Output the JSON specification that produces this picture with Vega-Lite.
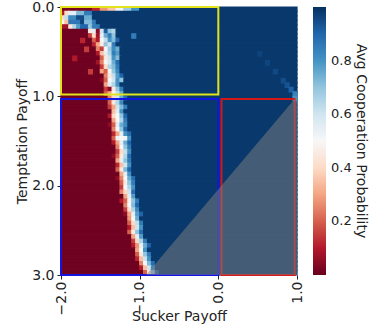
{
"$schema":"https://vega.github.io/schema/vega-lite/v6.json",
"width":236,"height":268,
"autosize":{"type":"none"},
"padding":{"left":61,"top":7,"right":76,"bottom":53},
"background":"white",
"config":{"view":{"stroke":null},"axis":{"grid":false,"domain":false,"tickColor":"#222","labelColor":"#222","titleColor":"#222","labelFont":"DejaVu Sans","titleFont":"DejaVu Sans","labelFontSize":14,"titleFontSize":14,"titleFontWeight":"normal"}},
"resolve":{"scale":{"stroke":"independent"}},
"layer":[
{"data":{"values":[
{"a":-2,"b":-1.6,"t":0,"u":0.05,"v":0.02},{"a":-1.6,"b":-1.5,"t":0,"u":0.05,"v":0.12},{"a":-1.5,"b":-1.4,"t":0,"u":0.05,"v":0.28},{"a":-1.4,"b":-1.3,"t":0,"u":0.05,"v":0.36},{"a":-1.3,"b":-1.2,"t":0,"u":0.05,"v":0.52},{"a":-1.2,"b":-1.1,"t":0,"u":0.05,"v":0.68},{"a":-1.1,"b":-1,"t":0,"u":0.05,"v":0.8},{"a":-1,"b":1,"t":0,"u":0.05,"v":0.985},
{"a":-2,"b":-1.95,"t":0.05,"u":0.1,"v":0.1},{"a":-1.95,"b":-1.9,"t":0.05,"u":0.1,"v":0.4},{"a":-1.9,"b":-1.8,"t":0.05,"u":0.1,"v":0.55},{"a":-1.8,"b":-1.7,"t":0.05,"u":0.1,"v":0.72},{"a":-1.7,"b":-1.6,"t":0.05,"u":0.1,"v":0.85},{"a":-1.6,"b":1,"t":0.05,"u":0.1,"v":0.985},
{"a":-2,"b":-1.95,"t":0.1,"u":0.15,"v":0.4},{"a":-1.95,"b":-1.9,"t":0.1,"u":0.15,"v":0.62},{"a":-1.9,"b":-1.8,"t":0.1,"u":0.15,"v":0.82},{"a":-1.8,"b":-1.7,"t":0.1,"u":0.15,"v":0.95},{"a":-1.7,"b":-1.6,"t":0.1,"u":0.15,"v":0.75},{"a":-1.6,"b":1,"t":0.1,"u":0.15,"v":0.985},
{"a":-2,"b":-1.95,"t":0.15,"u":0.2,"v":0.5},{"a":-1.95,"b":-1.9,"t":0.15,"u":0.2,"v":0.35},{"a":-1.9,"b":-1.75,"t":0.15,"u":0.2,"v":0.86},{"a":-1.75,"b":-1.7,"t":0.15,"u":0.2,"v":0.96},{"a":-1.7,"b":-1.6,"t":0.15,"u":0.2,"v":0.72},{"a":-1.6,"b":-1.55,"t":0.15,"u":0.2,"v":0.85},{"a":-1.55,"b":1,"t":0.15,"u":0.2,"v":0.985},
{"a":-2,"b":-1.9,"t":0.2,"u":0.25,"v":0.08},{"a":-1.9,"b":-1.85,"t":0.2,"u":0.25,"v":0.45},{"a":-1.85,"b":-1.8,"t":0.2,"u":0.25,"v":0.65},{"a":-1.8,"b":-1.75,"t":0.2,"u":0.25,"v":0.78},{"a":-1.75,"b":-1.65,"t":0.2,"u":0.25,"v":0.9},{"a":-1.65,"b":-1.6,"t":0.2,"u":0.25,"v":0.7},{"a":-1.6,"b":-1.5,"t":0.2,"u":0.25,"v":0.85},{"a":-1.5,"b":1,"t":0.2,"u":0.25,"v":0.985},
{"a":-2,"b":-1.65,"t":0.25,"u":0.3,"v":0.01},{"a":-1.65,"b":-1.6,"t":0.25,"u":0.3,"v":0.45},{"a":-1.6,"b":-1.55,"t":0.25,"u":0.3,"v":0.55},{"a":-1.55,"b":-1.5,"t":0.25,"u":0.3,"v":0.05},{"a":-1.5,"b":-1.45,"t":0.25,"u":0.3,"v":0.6},{"a":-1.45,"b":-1.4,"t":0.25,"u":0.3,"v":0.92},{"a":-1.4,"b":-1.35,"t":0.25,"u":0.3,"v":0.7},{"a":-1.35,"b":-1.3,"t":0.25,"u":0.3,"v":0.65},{"a":-1.3,"b":1,"t":0.25,"u":0.3,"v":0.985},
{"a":-2,"b":-1.65,"t":0.3,"u":0.35,"v":0.01},{"a":-1.65,"b":-1.6,"t":0.3,"u":0.35,"v":0.15},{"a":-1.6,"b":-1.55,"t":0.3,"u":0.35,"v":0.4},{"a":-1.55,"b":-1.5,"t":0.3,"u":0.35,"v":0.08},{"a":-1.5,"b":-1.45,"t":0.3,"u":0.35,"v":0.55},{"a":-1.45,"b":-1.4,"t":0.3,"u":0.35,"v":0.75},{"a":-1.4,"b":-1.35,"t":0.3,"u":0.35,"v":0.85},{"a":-1.35,"b":-1.3,"t":0.3,"u":0.35,"v":0.7},{"a":-1.3,"b":1,"t":0.3,"u":0.35,"v":0.985},
{"a":-2,"b":-1.6,"t":0.35,"u":0.4,"v":0.01},{"a":-1.6,"b":-1.55,"t":0.35,"u":0.4,"v":0.2},{"a":-1.55,"b":-1.5,"t":0.35,"u":0.4,"v":0.1},{"a":-1.5,"b":-1.45,"t":0.35,"u":0.4,"v":0.5},{"a":-1.45,"b":-1.4,"t":0.35,"u":0.4,"v":0.62},{"a":-1.4,"b":-1.35,"t":0.35,"u":0.4,"v":0.8},{"a":-1.35,"b":-1.3,"t":0.35,"u":0.4,"v":0.72},{"a":-1.3,"b":-1.25,"t":0.35,"u":0.4,"v":0.9},{"a":-1.25,"b":1,"t":0.35,"u":0.4,"v":0.985},
{"a":-2,"b":-1.6,"t":0.4,"u":0.45,"v":0.01},{"a":-1.6,"b":-1.55,"t":0.4,"u":0.45,"v":0.12},{"a":-1.55,"b":-1.5,"t":0.4,"u":0.45,"v":0.3},{"a":-1.5,"b":-1.45,"t":0.4,"u":0.45,"v":0.45},{"a":-1.45,"b":-1.4,"t":0.4,"u":0.45,"v":0.7},{"a":-1.4,"b":-1.35,"t":0.4,"u":0.45,"v":0.6},{"a":-1.35,"b":-1.3,"t":0.4,"u":0.45,"v":0.85},{"a":-1.3,"b":1,"t":0.4,"u":0.45,"v":0.985},
{"a":-2,"b":-1.55,"t":0.45,"u":0.5,"v":0.01},{"a":-1.55,"b":-1.5,"t":0.45,"u":0.5,"v":0.25},{"a":-1.5,"b":-1.45,"t":0.45,"u":0.5,"v":0.15},{"a":-1.45,"b":-1.4,"t":0.45,"u":0.5,"v":0.5},{"a":-1.4,"b":-1.35,"t":0.45,"u":0.5,"v":0.68},{"a":-1.35,"b":-1.3,"t":0.45,"u":0.5,"v":0.82},{"a":-1.3,"b":-1.25,"t":0.45,"u":0.5,"v":0.75},{"a":-1.25,"b":1,"t":0.45,"u":0.5,"v":0.985},
{"a":-2,"b":-1.55,"t":0.5,"u":0.55,"v":0.01},{"a":-1.55,"b":-1.5,"t":0.5,"u":0.55,"v":0.1},{"a":-1.5,"b":-1.45,"t":0.5,"u":0.55,"v":0.35},{"a":-1.45,"b":-1.4,"t":0.5,"u":0.55,"v":0.55},{"a":-1.4,"b":-1.35,"t":0.5,"u":0.55,"v":0.65},{"a":-1.35,"b":-1.3,"t":0.5,"u":0.55,"v":0.85},{"a":-1.3,"b":-1.25,"t":0.5,"u":0.55,"v":0.78},{"a":-1.25,"b":1,"t":0.5,"u":0.55,"v":0.985},
{"a":-2,"b":-1.5,"t":0.55,"u":0.6,"v":0.01},{"a":-1.5,"b":-1.45,"t":0.55,"u":0.6,"v":0.2},{"a":-1.45,"b":-1.4,"t":0.55,"u":0.6,"v":0.45},{"a":-1.4,"b":-1.35,"t":0.55,"u":0.6,"v":0.6},{"a":-1.35,"b":-1.3,"t":0.55,"u":0.6,"v":0.8},{"a":-1.3,"b":-1.25,"t":0.55,"u":0.6,"v":0.72},{"a":-1.25,"b":1,"t":0.55,"u":0.6,"v":0.985},
{"a":-2,"b":-1.55,"t":0.6,"u":0.65,"v":0.01},{"a":-1.55,"b":-1.5,"t":0.6,"u":0.65,"v":0.08},{"a":-1.5,"b":-1.45,"t":0.6,"u":0.65,"v":0.25},{"a":-1.45,"b":-1.4,"t":0.6,"u":0.65,"v":0.5},{"a":-1.4,"b":-1.35,"t":0.6,"u":0.65,"v":0.58},{"a":-1.35,"b":-1.3,"t":0.6,"u":0.65,"v":0.75},{"a":-1.3,"b":-1.25,"t":0.6,"u":0.65,"v":0.88},{"a":-1.25,"b":1,"t":0.6,"u":0.65,"v":0.985},
{"a":-2,"b":-1.5,"t":0.65,"u":0.7,"v":0.01},{"a":-1.5,"b":-1.45,"t":0.65,"u":0.7,"v":0.15},{"a":-1.45,"b":-1.4,"t":0.65,"u":0.7,"v":0.4},{"a":-1.4,"b":-1.35,"t":0.65,"u":0.7,"v":0.65},{"a":-1.35,"b":-1.3,"t":0.65,"u":0.7,"v":0.72},{"a":-1.3,"b":-1.25,"t":0.65,"u":0.7,"v":0.85},{"a":-1.25,"b":1,"t":0.65,"u":0.7,"v":0.985},
{"a":-2,"b":-1.5,"t":0.7,"u":0.75,"v":0.01},{"a":-1.5,"b":-1.45,"t":0.7,"u":0.75,"v":0.3},{"a":-1.45,"b":-1.4,"t":0.7,"u":0.75,"v":0.2},{"a":-1.4,"b":-1.35,"t":0.7,"u":0.75,"v":0.5},{"a":-1.35,"b":-1.3,"t":0.7,"u":0.75,"v":0.7},{"a":-1.3,"b":-1.25,"t":0.7,"u":0.75,"v":0.82},{"a":-1.25,"b":1,"t":0.7,"u":0.75,"v":0.985},
{"a":-2,"b":-1.45,"t":0.75,"u":0.8,"v":0.01},{"a":-1.45,"b":-1.4,"t":0.75,"u":0.8,"v":0.25},{"a":-1.4,"b":-1.35,"t":0.75,"u":0.8,"v":0.45},{"a":-1.35,"b":-1.3,"t":0.75,"u":0.8,"v":0.62},{"a":-1.3,"b":-1.25,"t":0.75,"u":0.8,"v":0.78},{"a":-1.25,"b":-1.2,"t":0.75,"u":0.8,"v":0.9},{"a":-1.2,"b":1,"t":0.75,"u":0.8,"v":0.985},
{"a":-2,"b":-1.5,"t":0.8,"u":0.85,"v":0.01},{"a":-1.5,"b":-1.45,"t":0.8,"u":0.85,"v":0.05},{"a":-1.45,"b":-1.4,"t":0.8,"u":0.85,"v":0.2},{"a":-1.4,"b":-1.35,"t":0.8,"u":0.85,"v":0.5},{"a":-1.35,"b":-1.3,"t":0.8,"u":0.85,"v":0.6},{"a":-1.3,"b":-1.25,"t":0.8,"u":0.85,"v":0.8},{"a":-1.25,"b":-1.2,"t":0.8,"u":0.85,"v":0.7},{"a":-1.2,"b":1,"t":0.8,"u":0.85,"v":0.985},
{"a":-2,"b":-1.45,"t":0.85,"u":0.9,"v":0.01},{"a":-1.45,"b":-1.4,"t":0.85,"u":0.9,"v":0.3},{"a":-1.4,"b":-1.35,"t":0.85,"u":0.9,"v":0.55},{"a":-1.35,"b":-1.3,"t":0.85,"u":0.9,"v":0.65},{"a":-1.3,"b":-1.25,"t":0.85,"u":0.9,"v":0.8},{"a":-1.25,"b":1,"t":0.85,"u":0.9,"v":0.985},
{"a":-2,"b":-1.45,"t":0.9,"u":0.95,"v":0.01},{"a":-1.45,"b":-1.4,"t":0.9,"u":0.95,"v":0.15},{"a":-1.4,"b":-1.35,"t":0.9,"u":0.95,"v":0.05},{"a":-1.35,"b":-1.3,"t":0.9,"u":0.95,"v":0.45},{"a":-1.3,"b":-1.25,"t":0.9,"u":0.95,"v":0.7},{"a":-1.25,"b":-1.2,"t":0.9,"u":0.95,"v":0.85},{"a":-1.2,"b":1,"t":0.9,"u":0.95,"v":0.985},
{"a":-2,"b":-1.45,"t":0.95,"u":1,"v":0.01},{"a":-1.45,"b":-1.4,"t":0.95,"u":1,"v":0.2},{"a":-1.4,"b":-1.35,"t":0.95,"u":1,"v":0.3},{"a":-1.35,"b":-1.3,"t":0.95,"u":1,"v":0.5},{"a":-1.3,"b":-1.25,"t":0.95,"u":1,"v":0.62},{"a":-1.25,"b":-1.2,"t":0.95,"u":1,"v":0.75},{"a":-1.2,"b":1,"t":0.95,"u":1,"v":0.985},
{"a":-2,"b":-1.4,"t":1,"u":1.05,"v":0.01},{"a":-1.4,"b":-1.35,"t":1,"u":1.05,"v":0.25},{"a":-1.35,"b":-1.3,"t":1,"u":1.05,"v":0.4},{"a":-1.3,"b":-1.25,"t":1,"u":1.05,"v":0.6},{"a":-1.25,"b":-1.2,"t":1,"u":1.05,"v":0.75},{"a":-1.2,"b":-1.15,"t":1,"u":1.05,"v":0.88},{"a":-1.15,"b":1,"t":1,"u":1.05,"v":0.985},
{"a":-2,"b":-1.4,"t":1.05,"u":1.1,"v":0.01},{"a":-1.4,"b":-1.35,"t":1.05,"u":1.1,"v":0.2},{"a":-1.35,"b":-1.3,"t":1.05,"u":1.1,"v":0.45},{"a":-1.3,"b":-1.25,"t":1.05,"u":1.1,"v":0.65},{"a":-1.25,"b":-1.2,"t":1.05,"u":1.1,"v":0.82},{"a":-1.2,"b":1,"t":1.05,"u":1.1,"v":0.985},
{"a":-2,"b":-1.4,"t":1.1,"u":1.15,"v":0.01},{"a":-1.4,"b":-1.35,"t":1.1,"u":1.15,"v":0.15},{"a":-1.35,"b":-1.3,"t":1.1,"u":1.15,"v":0.3},{"a":-1.3,"b":-1.25,"t":1.1,"u":1.15,"v":0.6},{"a":-1.25,"b":-1.2,"t":1.1,"u":1.15,"v":0.72},{"a":-1.2,"b":-1.15,"t":1.1,"u":1.15,"v":0.85},{"a":-1.15,"b":1,"t":1.1,"u":1.15,"v":0.985},
{"a":-2,"b":-1.35,"t":1.15,"u":1.2,"v":0.01},{"a":-1.35,"b":-1.3,"t":1.15,"u":1.2,"v":0.35},{"a":-1.3,"b":-1.25,"t":1.15,"u":1.2,"v":0.55},{"a":-1.25,"b":-1.2,"t":1.15,"u":1.2,"v":0.8},{"a":-1.2,"b":1,"t":1.15,"u":1.2,"v":0.985},
{"a":-2,"b":-1.4,"t":1.2,"u":1.25,"v":0.01},{"a":-1.4,"b":-1.35,"t":1.2,"u":1.25,"v":0.1},{"a":-1.35,"b":-1.3,"t":1.2,"u":1.25,"v":0.4},{"a":-1.3,"b":-1.25,"t":1.2,"u":1.25,"v":0.5},{"a":-1.25,"b":-1.2,"t":1.2,"u":1.25,"v":0.7},{"a":-1.2,"b":-1.15,"t":1.2,"u":1.25,"v":0.9},{"a":-1.15,"b":1,"t":1.2,"u":1.25,"v":0.985},
{"a":-2,"b":-1.35,"t":1.25,"u":1.3,"v":0.01},{"a":-1.35,"b":-1.3,"t":1.25,"u":1.3,"v":0.3},{"a":-1.3,"b":-1.25,"t":1.25,"u":1.3,"v":0.5},{"a":-1.25,"b":-1.2,"t":1.25,"u":1.3,"v":0.65},{"a":-1.2,"b":-1.15,"t":1.25,"u":1.3,"v":0.85},{"a":-1.15,"b":1,"t":1.25,"u":1.3,"v":0.985},
{"a":-2,"b":-1.4,"t":1.3,"u":1.35,"v":0.01},{"a":-1.4,"b":-1.35,"t":1.3,"u":1.35,"v":0.05},{"a":-1.35,"b":-1.3,"t":1.3,"u":1.35,"v":0.2},{"a":-1.3,"b":-1.25,"t":1.3,"u":1.35,"v":0.55},{"a":-1.25,"b":-1.2,"t":1.3,"u":1.35,"v":0.75},{"a":-1.2,"b":-1.15,"t":1.3,"u":1.35,"v":0.82},{"a":-1.15,"b":1,"t":1.3,"u":1.35,"v":0.985},
{"a":-2,"b":-1.35,"t":1.35,"u":1.4,"v":0.01},{"a":-1.35,"b":-1.3,"t":1.35,"u":1.4,"v":0.25},{"a":-1.3,"b":-1.25,"t":1.35,"u":1.4,"v":0.5},{"a":-1.25,"b":-1.2,"t":1.35,"u":1.4,"v":0.7},{"a":-1.2,"b":-1.15,"t":1.35,"u":1.4,"v":0.9},{"a":-1.15,"b":1,"t":1.35,"u":1.4,"v":0.985},
{"a":-2,"b":-1.35,"t":1.4,"u":1.45,"v":0.01},{"a":-1.35,"b":-1.3,"t":1.4,"u":1.45,"v":0.12},{"a":-1.3,"b":-1.25,"t":1.4,"u":1.45,"v":0.3},{"a":-1.25,"b":-1.2,"t":1.4,"u":1.45,"v":0.55},{"a":-1.2,"b":-1.15,"t":1.4,"u":1.45,"v":0.8},{"a":-1.15,"b":-1.1,"t":1.4,"u":1.45,"v":0.88},{"a":-1.1,"b":1,"t":1.4,"u":1.45,"v":0.985},
{"a":-2,"b":-1.35,"t":1.45,"u":1.5,"v":0.01},{"a":-1.35,"b":-1.3,"t":1.45,"u":1.5,"v":0.2},{"a":-1.3,"b":-1.25,"t":1.45,"u":1.5,"v":0.52},{"a":-1.25,"b":-1.2,"t":1.45,"u":1.5,"v":0.5},{"a":-1.2,"b":-1.15,"t":1.45,"u":1.5,"v":0.52},{"a":-1.15,"b":-1.1,"t":1.45,"u":1.5,"v":0.8},{"a":-1.1,"b":1,"t":1.45,"u":1.5,"v":0.985},
{"a":-2,"b":-1.35,"t":1.5,"u":1.55,"v":0.01},{"a":-1.35,"b":-1.3,"t":1.5,"u":1.55,"v":0.1},{"a":-1.3,"b":-1.25,"t":1.5,"u":1.55,"v":0.3},{"a":-1.25,"b":-1.2,"t":1.5,"u":1.55,"v":0.55},{"a":-1.2,"b":-1.15,"t":1.5,"u":1.55,"v":0.75},{"a":-1.15,"b":-1.1,"t":1.5,"u":1.55,"v":0.9},{"a":-1.1,"b":1,"t":1.5,"u":1.55,"v":0.985},
{"a":-2,"b":-1.3,"t":1.55,"u":1.6,"v":0.01},{"a":-1.3,"b":-1.25,"t":1.55,"u":1.6,"v":0.25},{"a":-1.25,"b":-1.2,"t":1.55,"u":1.6,"v":0.5},{"a":-1.2,"b":-1.15,"t":1.55,"u":1.6,"v":0.7},{"a":-1.15,"b":-1.1,"t":1.55,"u":1.6,"v":0.85},{"a":-1.1,"b":1,"t":1.55,"u":1.6,"v":0.985},
{"a":-2,"b":-1.3,"t":1.6,"u":1.65,"v":0.01},{"a":-1.3,"b":-1.25,"t":1.6,"u":1.65,"v":0.15},{"a":-1.25,"b":-1.2,"t":1.6,"u":1.65,"v":0.4},{"a":-1.2,"b":-1.15,"t":1.6,"u":1.65,"v":0.62},{"a":-1.15,"b":-1.1,"t":1.6,"u":1.65,"v":0.8},{"a":-1.1,"b":1,"t":1.6,"u":1.65,"v":0.985},
{"a":-2,"b":-1.35,"t":1.65,"u":1.7,"v":0.01},{"a":-1.35,"b":-1.3,"t":1.65,"u":1.7,"v":0.05},{"a":-1.3,"b":-1.25,"t":1.65,"u":1.7,"v":0.2},{"a":-1.25,"b":-1.2,"t":1.65,"u":1.7,"v":0.45},{"a":-1.2,"b":-1.15,"t":1.65,"u":1.7,"v":0.65},{"a":-1.15,"b":-1.1,"t":1.65,"u":1.7,"v":0.88},{"a":-1.1,"b":1,"t":1.65,"u":1.7,"v":0.985},
{"a":-2,"b":-1.3,"t":1.7,"u":1.75,"v":0.01},{"a":-1.3,"b":-1.25,"t":1.7,"u":1.75,"v":0.3},{"a":-1.25,"b":-1.2,"t":1.7,"u":1.75,"v":0.55},{"a":-1.2,"b":-1.15,"t":1.7,"u":1.75,"v":0.7},{"a":-1.15,"b":-1.1,"t":1.7,"u":1.75,"v":0.85},{"a":-1.1,"b":1,"t":1.7,"u":1.75,"v":0.985},
{"a":-2,"b":-1.3,"t":1.75,"u":1.8,"v":0.01},{"a":-1.3,"b":-1.25,"t":1.75,"u":1.8,"v":0.12},{"a":-1.25,"b":-1.2,"t":1.75,"u":1.8,"v":0.35},{"a":-1.2,"b":-1.15,"t":1.75,"u":1.8,"v":0.6},{"a":-1.15,"b":-1.1,"t":1.75,"u":1.8,"v":0.8},{"a":-1.1,"b":1,"t":1.75,"u":1.8,"v":0.985},
{"a":-2,"b":-1.3,"t":1.8,"u":1.85,"v":0.01},{"a":-1.3,"b":-1.25,"t":1.8,"u":1.85,"v":0.2},{"a":-1.25,"b":-1.2,"t":1.8,"u":1.85,"v":0.45},{"a":-1.2,"b":-1.15,"t":1.8,"u":1.85,"v":0.72},{"a":-1.15,"b":-1.1,"t":1.8,"u":1.85,"v":0.9},{"a":-1.1,"b":1,"t":1.8,"u":1.85,"v":0.985},
{"a":-2,"b":-1.25,"t":1.85,"u":1.9,"v":0.01},{"a":-1.25,"b":-1.2,"t":1.85,"u":1.9,"v":0.3},{"a":-1.2,"b":-1.15,"t":1.85,"u":1.9,"v":0.55},{"a":-1.15,"b":-1.1,"t":1.85,"u":1.9,"v":0.8},{"a":-1.1,"b":1,"t":1.85,"u":1.9,"v":0.985},
{"a":-2,"b":-1.3,"t":1.9,"u":1.95,"v":0.01},{"a":-1.3,"b":-1.25,"t":1.9,"u":1.95,"v":0.05},{"a":-1.25,"b":-1.2,"t":1.9,"u":1.95,"v":0.25},{"a":-1.2,"b":-1.15,"t":1.9,"u":1.95,"v":0.5},{"a":-1.15,"b":-1.1,"t":1.9,"u":1.95,"v":0.75},{"a":-1.1,"b":-1.05,"t":1.9,"u":1.95,"v":0.88},{"a":-1.05,"b":1,"t":1.9,"u":1.95,"v":0.985},
{"a":-2,"b":-1.25,"t":1.95,"u":2,"v":0.01},{"a":-1.25,"b":-1.2,"t":1.95,"u":2,"v":0.2},{"a":-1.2,"b":-1.15,"t":1.95,"u":2,"v":0.45},{"a":-1.15,"b":-1.1,"t":1.95,"u":2,"v":0.7},{"a":-1.1,"b":-1.05,"t":1.95,"u":2,"v":0.85},{"a":-1.05,"b":1,"t":1.95,"u":2,"v":0.985},
{"a":-2,"b":-1.25,"t":2,"u":2.05,"v":0.01},{"a":-1.25,"b":-1.2,"t":2,"u":2.05,"v":0.15},{"a":-1.2,"b":-1.15,"t":2,"u":2.05,"v":0.5},{"a":-1.15,"b":-1.1,"t":2,"u":2.05,"v":0.65},{"a":-1.1,"b":-1.05,"t":2,"u":2.05,"v":0.8},{"a":-1.05,"b":1,"t":2,"u":2.05,"v":0.985},
{"a":-2,"b":-1.25,"t":2.05,"u":2.1,"v":0.01},{"a":-1.25,"b":-1.2,"t":2.05,"u":2.1,"v":0.25},{"a":-1.2,"b":-1.15,"t":2.05,"u":2.1,"v":0.4},{"a":-1.15,"b":-1.1,"t":2.05,"u":2.1,"v":0.6},{"a":-1.1,"b":-1.05,"t":2.05,"u":2.1,"v":0.88},{"a":-1.05,"b":1,"t":2.05,"u":2.1,"v":0.985},
{"a":-2,"b":-1.2,"t":2.1,"u":2.15,"v":0.01},{"a":-1.2,"b":-1.15,"t":2.1,"u":2.15,"v":0.3},{"a":-1.15,"b":-1.1,"t":2.1,"u":2.15,"v":0.55},{"a":-1.1,"b":-1.05,"t":2.1,"u":2.15,"v":0.78},{"a":-1.05,"b":1,"t":2.1,"u":2.15,"v":0.985},
{"a":-2,"b":-1.25,"t":2.15,"u":2.2,"v":0.01},{"a":-1.25,"b":-1.2,"t":2.15,"u":2.2,"v":0.1},{"a":-1.2,"b":-1.15,"t":2.15,"u":2.2,"v":0.2},{"a":-1.15,"b":-1.1,"t":2.15,"u":2.2,"v":0.48},{"a":-1.1,"b":-1.05,"t":2.15,"u":2.2,"v":0.7},{"a":-1.05,"b":-1,"t":2.15,"u":2.2,"v":0.85},{"a":-1,"b":1,"t":2.15,"u":2.2,"v":0.985},
{"a":-2,"b":-1.2,"t":2.2,"u":2.25,"v":0.01},{"a":-1.2,"b":-1.15,"t":2.2,"u":2.25,"v":0.25},{"a":-1.15,"b":-1.1,"t":2.2,"u":2.25,"v":0.5},{"a":-1.1,"b":-1.05,"t":2.2,"u":2.25,"v":0.72},{"a":-1.05,"b":-1,"t":2.2,"u":2.25,"v":0.9},{"a":-1,"b":1,"t":2.2,"u":2.25,"v":0.985},
{"a":-2,"b":-1.2,"t":2.25,"u":2.3,"v":0.01},{"a":-1.2,"b":-1.15,"t":2.25,"u":2.3,"v":0.15},{"a":-1.15,"b":-1.1,"t":2.25,"u":2.3,"v":0.42},{"a":-1.1,"b":-1.05,"t":2.25,"u":2.3,"v":0.65},{"a":-1.05,"b":-1,"t":2.25,"u":2.3,"v":0.82},{"a":-1,"b":1,"t":2.25,"u":2.3,"v":0.985},
{"a":-2,"b":-1.2,"t":2.3,"u":2.35,"v":0.01},{"a":-1.2,"b":-1.15,"t":2.3,"u":2.35,"v":0.05},{"a":-1.15,"b":-1.1,"t":2.3,"u":2.35,"v":0.3},{"a":-1.1,"b":-1.05,"t":2.3,"u":2.35,"v":0.55},{"a":-1.05,"b":-1,"t":2.3,"u":2.35,"v":0.78},{"a":-1,"b":-0.95,"t":2.3,"u":2.35,"v":0.9},{"a":-0.95,"b":1,"t":2.3,"u":2.35,"v":0.985},
{"a":-2,"b":-1.15,"t":2.35,"u":2.4,"v":0.01},{"a":-1.15,"b":-1.1,"t":2.35,"u":2.4,"v":0.28},{"a":-1.1,"b":-1.05,"t":2.35,"u":2.4,"v":0.5},{"a":-1.05,"b":-1,"t":2.35,"u":2.4,"v":0.75},{"a":-1,"b":1,"t":2.35,"u":2.4,"v":0.985},
{"a":-2,"b":-1.15,"t":2.4,"u":2.45,"v":0.01},{"a":-1.15,"b":-1.1,"t":2.4,"u":2.45,"v":0.2},{"a":-1.1,"b":-1.05,"t":2.4,"u":2.45,"v":0.4},{"a":-1.05,"b":-1,"t":2.4,"u":2.45,"v":0.62},{"a":-1,"b":-0.95,"t":2.4,"u":2.45,"v":0.85},{"a":-0.95,"b":1,"t":2.4,"u":2.45,"v":0.985},
{"a":-2,"b":-1.15,"t":2.45,"u":2.5,"v":0.01},{"a":-1.15,"b":-1.1,"t":2.45,"u":2.5,"v":0.1},{"a":-1.1,"b":-1.05,"t":2.45,"u":2.5,"v":0.35},{"a":-1.05,"b":-1,"t":2.45,"u":2.5,"v":0.6},{"a":-1,"b":-0.95,"t":2.45,"u":2.5,"v":0.8},{"a":-0.95,"b":1,"t":2.45,"u":2.5,"v":0.985},
{"a":-2,"b":-1.15,"t":2.5,"u":2.55,"v":0.01},{"a":-1.15,"b":-1.1,"t":2.5,"u":2.55,"v":0.2},{"a":-1.1,"b":-1.05,"t":2.5,"u":2.55,"v":0.45},{"a":-1.05,"b":-1,"t":2.5,"u":2.55,"v":0.7},{"a":-1,"b":-0.95,"t":2.5,"u":2.55,"v":0.88},{"a":-0.95,"b":1,"t":2.5,"u":2.55,"v":0.985},
{"a":-2,"b":-1.1,"t":2.55,"u":2.6,"v":0.01},{"a":-1.1,"b":-1.05,"t":2.55,"u":2.6,"v":0.3},{"a":-1.05,"b":-1,"t":2.55,"u":2.6,"v":0.55},{"a":-1,"b":-0.95,"t":2.55,"u":2.6,"v":0.78},{"a":-0.95,"b":1,"t":2.55,"u":2.6,"v":0.985},
{"a":-2,"b":-1.1,"t":2.6,"u":2.65,"v":0.01},{"a":-1.1,"b":-1.05,"t":2.6,"u":2.65,"v":0.15},{"a":-1.05,"b":-1,"t":2.6,"u":2.65,"v":0.4},{"a":-1,"b":-0.95,"t":2.6,"u":2.65,"v":0.65},{"a":-0.95,"b":-0.9,"t":2.6,"u":2.65,"v":0.85},{"a":-0.9,"b":1,"t":2.6,"u":2.65,"v":0.985},
{"a":-2,"b":-1.1,"t":2.65,"u":2.7,"v":0.01},{"a":-1.1,"b":-1.05,"t":2.65,"u":2.7,"v":0.1},{"a":-1.05,"b":-1,"t":2.65,"u":2.7,"v":0.28},{"a":-1,"b":-0.95,"t":2.65,"u":2.7,"v":0.55},{"a":-0.95,"b":-0.9,"t":2.65,"u":2.7,"v":0.75},{"a":-0.9,"b":-0.85,"t":2.65,"u":2.7,"v":0.9},{"a":-0.85,"b":1,"t":2.65,"u":2.7,"v":0.985},
{"a":-2,"b":-1.05,"t":2.7,"u":2.75,"v":0.01},{"a":-1.05,"b":-1,"t":2.7,"u":2.75,"v":0.3},{"a":-1,"b":-0.95,"t":2.7,"u":2.75,"v":0.5},{"a":-0.95,"b":-0.9,"t":2.7,"u":2.75,"v":0.8},{"a":-0.9,"b":1,"t":2.7,"u":2.75,"v":0.985},
{"a":-2,"b":-1.05,"t":2.75,"u":2.8,"v":0.01},{"a":-1.05,"b":-1,"t":2.75,"u":2.8,"v":0.2},{"a":-1,"b":-0.95,"t":2.75,"u":2.8,"v":0.45},{"a":-0.95,"b":-0.9,"t":2.75,"u":2.8,"v":0.7},{"a":-0.9,"b":-0.85,"t":2.75,"u":2.8,"v":0.85},{"a":-0.85,"b":1,"t":2.75,"u":2.8,"v":0.985},
{"a":-2,"b":-1.05,"t":2.8,"u":2.85,"v":0.01},{"a":-1.05,"b":-1,"t":2.8,"u":2.85,"v":0.12},{"a":-1,"b":-0.95,"t":2.8,"u":2.85,"v":0.35},{"a":-0.95,"b":-0.9,"t":2.8,"u":2.85,"v":0.6},{"a":-0.9,"b":-0.85,"t":2.8,"u":2.85,"v":0.8},{"a":-0.85,"b":1,"t":2.8,"u":2.85,"v":0.985},
{"a":-2,"b":-1,"t":2.85,"u":2.9,"v":0.01},{"a":-1,"b":-0.95,"t":2.85,"u":2.9,"v":0.25},{"a":-0.95,"b":-0.9,"t":2.85,"u":2.9,"v":0.5},{"a":-0.9,"b":-0.85,"t":2.85,"u":2.9,"v":0.72},{"a":-0.85,"b":-0.8,"t":2.85,"u":2.9,"v":0.88},{"a":-0.8,"b":1,"t":2.85,"u":2.9,"v":0.985},
{"a":-2,"b":-1,"t":2.9,"u":2.95,"v":0.01},{"a":-1,"b":-0.95,"t":2.9,"u":2.95,"v":0.1},{"a":-0.95,"b":-0.9,"t":2.9,"u":2.95,"v":0.35},{"a":-0.9,"b":-0.85,"t":2.9,"u":2.95,"v":0.6},{"a":-0.85,"b":-0.8,"t":2.9,"u":2.95,"v":0.82},{"a":-0.8,"b":1,"t":2.9,"u":2.95,"v":0.985},
{"a":-2,"b":-0.95,"t":2.95,"u":3,"v":0.01},{"a":-0.95,"b":-0.9,"t":2.95,"u":3,"v":0.2},{"a":-0.9,"b":-0.85,"t":2.95,"u":3,"v":0.45},{"a":-0.85,"b":-0.8,"t":2.95,"u":3,"v":0.7},{"a":-0.8,"b":-0.75,"t":2.95,"u":3,"v":0.9},{"a":-0.75,"b":1,"t":2.95,"u":3,"v":0.985},
{"a":-1.75,"b":-1.7,"t":0.35,"u":0.4,"v":0.12},{"a":-1.7,"b":-1.65,"t":0.45,"u":0.5,"v":0.15},{"a":-1.85,"b":-1.8,"t":0.55,"u":0.6,"v":0.1},{"a":-1.65,"b":-1.6,"t":0.7,"u":0.75,"v":0.15},{"a":-1.1,"b":-1.05,"t":0.3,"u":0.35,"v":0.85},
{"a":0.5,"b":0.55,"t":0.5,"u":0.55,"v":0.965},{"a":0.6,"b":0.65,"t":0.6,"u":0.65,"v":0.96},{"a":0.7,"b":0.75,"t":0.7,"u":0.75,"v":0.955},{"a":0.8,"b":0.85,"t":0.8,"u":0.85,"v":0.945},{"a":0.85,"b":0.9,"t":0.85,"u":0.9,"v":0.935},{"a":0.9,"b":0.95,"t":0.9,"u":0.95,"v":0.91},{"a":0.95,"b":1,"t":0.95,"u":1,"v":0.84},{"a":0.95,"b":1,"t":1,"u":1.05,"v":0.8}
]},
"mark":{"type":"rect","strokeWidth":1.2,"opacity":1},
"encoding":{
"x":{"field":"a","type":"quantitative","scale":{"domain":[-2,1],"nice":false,"zero":false},"title":"Sucker Payoff","axis":{"values":[-2,-1,0,1],"format":".1f","labelAngle":-90,"tickSize":4,"labelPadding":2,"titleY":34}},
"x2":{"field":"b"},
"y":{"field":"t","type":"quantitative","scale":{"domain":[0,3],"reverse":true,"nice":false,"zero":false},"title":"Temptation Payoff","axis":{"values":[0,1,2,3],"format":".1f","tickSize":4,"labelPadding":3,"titlePadding":2}},
"y2":{"field":"u"},
"color":{"field":"v","type":"quantitative","title":"Avg Cooperation Probability","scale":{"domain":[0,0.1,0.2,0.3,0.4,0.5,0.6,0.7,0.8,0.9,1],"range":["#67001f","#b2182b","#d6604d","#f4a582","#fddbc7","#f7f7f7","#d1e5f0","#92c5de","#4393c3","#2166ac","#053061"],"interpolate":"rgb"},"legend":{"orient":"none","legendX":252,"legendY":0,"direction":"vertical","gradientLength":268,"gradientThickness":13,"gradientStrokeWidth":0,"values":[0.2,0.4,0.6,0.8],"format":".1f","labelFontSize":13,"labelFont":"DejaVu Sans","labelOffset":5,"labelColor":"#222","titleOrient":"right","titleAngle":270,"titleFontSize":14,"titleFont":"DejaVu Sans","titleFontWeight":"normal","titleColor":"#222","titleAnchor":"middle","titlePadding":2,"titleLimit":400}},
"stroke":{"field":"v","type":"quantitative","scale":{"domain":[0,0.1,0.2,0.3,0.4,0.5,0.6,0.7,0.8,0.9,1],"range":["#67001f","#b2182b","#d6604d","#f4a582","#fddbc7","#f7f7f7","#d1e5f0","#92c5de","#4393c3","#2166ac","#053061"],"interpolate":"rgb"},"legend":null}
}},
{"data":{"values":[{"a":-2,"b":0,"t":0,"u":0.98,"k":"Y"},{"a":-2,"b":0,"t":1.03,"u":3,"k":"B"},{"a":0.04,"b":0.97,"t":1.03,"u":3,"k":"R"}]},
"mark":{"type":"rect","fillOpacity":0,"strokeWidth":2,"opacity":1},
"encoding":{"x":{"field":"a","type":"quantitative"},"x2":{"field":"b"},"y":{"field":"t","type":"quantitative"},"y2":{"field":"u"},
"stroke":{"field":"k","type":"nominal","scale":{"domain":["Y","B","R"],"range":["#e3e31c","#1414e0","#d41818"]},"legend":null}}},
{"data":{"values":[{"a":-0.92,"t":3,"u":3},{"a":1,"t":1,"u":3}]},
"mark":{"type":"area","color":"#808080","opacity":0.5},
"encoding":{"x":{"field":"a","type":"quantitative"},"y":{"field":"t","type":"quantitative"},"y2":{"field":"u"}}}
]
}
